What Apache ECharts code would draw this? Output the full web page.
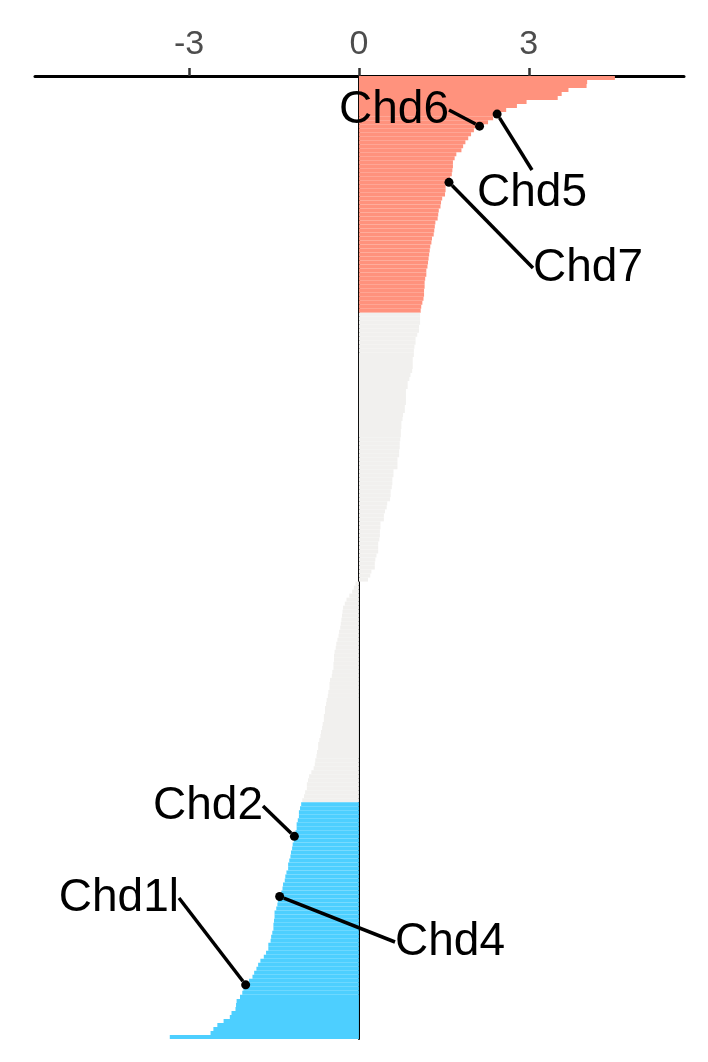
<!DOCTYPE html>
<html>
<head>
<meta charset="utf-8">
<script src="https://cdn.jsdelivr.net/npm/echarts@6/dist/echarts.min.js"></script>
<style>html,body{margin:0;padding:0;background:#fff}#c{width:708px;height:1062px}</style>
</head>
<body>
<div id="c"></div>
<script>
// Ranked values (top = highest)
const upValues = [
  4.52, 4.03, 4.02, 3.70, 3.58, 3.51, 2.96, 2.79, 2.60, 2.44,
  2.37, 2.28, 2.13, 2.03, 1.98, 1.93, 1.88, 1.84, 1.81, 1.72,
  1.69, 1.66, 1.66, 1.65, 1.64, 1.61, 1.59, 1.53, 1.53, 1.52,
  1.47, 1.45, 1.44, 1.41, 1.40, 1.39, 1.35, 1.34, 1.33, 1.32,
  1.29, 1.28, 1.26, 1.25, 1.24, 1.23, 1.22, 1.21, 1.19, 1.19,
  1.17, 1.16, 1.16, 1.15, 1.15, 1.14, 1.12, 1.10, 1.09
];
const neutralValues = [
  1.08, 1.08, 1.08, 1.06, 1.06, 1.03, 1.00, 1.00, 0.98, 0.97,
  0.97, 0.95, 0.95, 0.95, 0.94, 0.91, 0.89, 0.86, 0.86, 0.83,
  0.83, 0.83, 0.83, 0.81, 0.81, 0.78, 0.77, 0.75, 0.75, 0.74,
  0.74, 0.73, 0.72, 0.72, 0.71, 0.71, 0.68, 0.68, 0.68, 0.61,
  0.61, 0.59, 0.59, 0.58, 0.56, 0.56, 0.55, 0.50, 0.49, 0.46,
  0.44, 0.44, 0.38, 0.38, 0.37, 0.37, 0.36, 0.34, 0.34, 0.34,
  0.31, 0.29, 0.28, 0.28, 0.22, 0.20, 0.16, -0.06, -0.09, -0.12,
  -0.17, -0.22, -0.25, -0.28, -0.29, -0.30, -0.31, -0.32, -0.33, -0.35,
  -0.36, -0.38, -0.40, -0.41, -0.43, -0.44, -0.44, -0.45, -0.45, -0.47,
  -0.48, -0.51, -0.52, -0.52, -0.54, -0.55, -0.57, -0.58, -0.60, -0.60,
  -0.62, -0.62, -0.64, -0.65, -0.67, -0.68, -0.70, -0.72, -0.72, -0.74,
  -0.75, -0.77, -0.78, -0.80, -0.84, -0.88, -0.90, -0.92, -0.92, -0.95,
  -0.97, -1.00
];
const downValues = [
  -1.02, -1.04, -1.06, -1.06, -1.08, -1.10, -1.10, -1.12, -1.14, -1.15,
  -1.17, -1.18, -1.20, -1.21, -1.23, -1.25, -1.25, -1.28, -1.30, -1.31,
  -1.34, -1.35, -1.37, -1.40, -1.43, -1.44, -1.46, -1.49, -1.49, -1.50,
  -1.51, -1.51, -1.53, -1.55, -1.56, -1.60, -1.60, -1.64, -1.68, -1.74,
  -1.78, -1.81, -1.85, -1.88, -1.94, -2.00, -2.04, -2.06, -2.10, -2.16,
  -2.17, -2.18, -2.25, -2.28, -2.39, -2.50, -2.57, -2.62, -3.34
];
// Labeled genes and their rank (0 = top bar)
const labelNames = ['Chd5', 'Chd6', 'Chd7', 'Chd2', 'Chd4', 'Chd1l'];
const labelRanks = [9, 12, 26, 189, 204, 226];
const xTicks = [-3, 0, 3];

const values = upValues.concat(neutralValues, downValues);
const groups = upValues.map(() => 'up')
  .concat(neutralValues.map(() => 'ns'), downValues.map(() => 'down'));
const categories = values.map((v, i) => {
  const k = labelRanks.indexOf(i);
  return k >= 0 ? labelNames[k] : 'gene' + (i + 1);
});

const groupColor = { up: '#FF927D', ns: '#F1F0EE', down: '#4DCFFF' };

// label placement (styling)
const labelPlace = {
  Chd5: { x: 477, y: 193, align: 'left' },
  Chd6: { x: 449, y: 110, align: 'right' },
  Chd7: { x: 533, y: 268, align: 'left' },
  Chd2: { x: 263, y: 806, align: 'right' },
  Chd4: { x: 395, y: 942, align: 'left' },
  Chd1l: { x: 179, y: 898, align: 'right' }
};

const chart = echarts.init(document.getElementById('c'), null, { renderer: 'canvas' });
chart.setOption({
  animation: false,
  backgroundColor: '#ffffff',
  grid: { left: 35, right: 24, top: 76, bottom: 23, containLabel: false },
  xAxis: {
    type: 'value',
    position: 'top',
    min: -5.72,
    max: 5.74,
    splitLine: { show: false },
    axisLine: { show: true, onZero: false, lineStyle: { color: '#000', width: 3 } },
    axisTick: { show: true, customValues: xTicks, length: 8, lineStyle: { color: '#333', width: 2.5 } },
    axisLabel: {
      show: true, customValues: xTicks, margin: 14,
      fontSize: 34, color: '#4D4D4D',
      fontFamily: '"Liberation Sans Narrow", "Liberation Sans", Arial, sans-serif'
    }
  },
  yAxis: {
    type: 'category',
    inverse: true,
    data: categories,
    axisLine: { show: true, onZero: true, lineStyle: { color: '#000', width: 2 } },
    axisTick: { show: false },
    axisLabel: { show: false },
    splitLine: { show: false }
  },
  series: [
    {
      type: 'bar',
      barCategoryGap: '0%',
      data: values.map((v, i) => ({ value: v, itemStyle: { color: groupColor[groups[i]] } })),
      z: 1
    },
    {
      type: 'scatter',
      symbol: 'circle',
      symbolSize: 9,
      itemStyle: { color: '#000000', opacity: 1 },
      z: 5,
      data: labelRanks.map((r, k) => ({ name: labelNames[k], value: [values[r], r] })),
      label: {
        show: true,
        formatter: p => p.name,
        fontSize: 46,
        color: '#000000',
        opacity: 1,
        textBorderWidth: 0,
        fontFamily: '"Liberation Sans", Arial, sans-serif'
      },
      labelLine: { show: true, lineStyle: { color: '#000000', width: 3.5, opacity: 1 } },
      labelLayout: function (params) {
        const name = labelNames[params.dataIndex];
        const p = labelPlace[name];
        return { x: p.x, y: p.y, align: p.align, verticalAlign: 'middle', moveOverlap: null };
      }
    }
  ]
});
</script>
</body>
</html>
